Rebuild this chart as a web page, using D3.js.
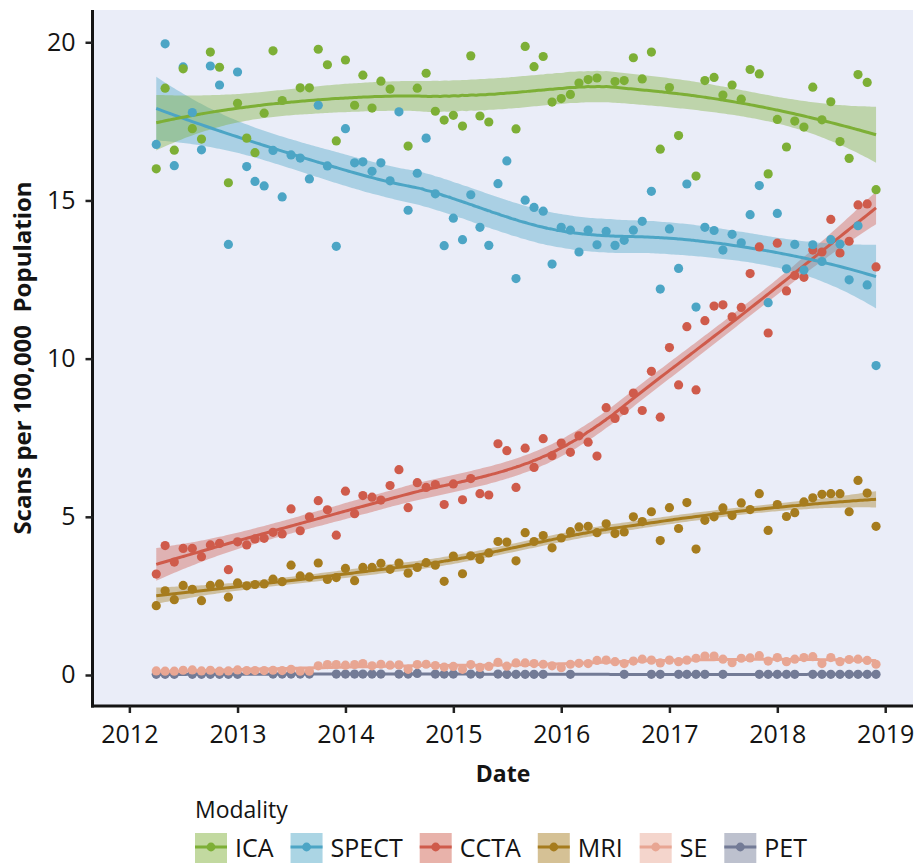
<!DOCTYPE html>
<html>
<head>
<meta charset="utf-8">
<script src="https://cdn.jsdelivr.net/npm/d3@7"></script>
<style>
  html, body { margin: 0; padding: 0; background: #ffffff; }
  svg { display: block; font-family: "Open Sans", "Noto Sans", sans-serif; }
</style>
</head>
<body>
<svg id="chart" width="915" height="863"></svg>
<script>
// Monthly scan rates per 100,000 population, April 2012 - December 2018
const months = d3.timeMonth.range(new Date(2012, 3, 1), new Date(2019, 0, 1));

const modalities = ["ICA", "SPECT", "CCTA", "MRI", "SE", "PET"];
const colors = ["#7daf36", "#4ca5c5", "#cf5b4b", "#a67c1e", "#e8a693", "#737b96"];
const yTicks = [0, 5, 10, 15, 20];
const xTickYears = [2012, 2013, 2014, 2015, 2016, 2017, 2018, 2019];

const ica = [16.0, 18.55, 16.59, 19.16, 17.27, 16.94, 19.69, 19.21, 15.56, 18.07,
  16.97, 16.51, 17.76, 19.73, 18.16, null, 18.56, 18.56, 19.78, 19.29,
  16.88, 19.44, 18.01, 18.96, 17.92, 18.77, 18.52, null, 16.72, 18.55,
  19.02, 17.82, 17.54, 17.69, 17.35, 19.57, 17.67, 17.48, null, null,
  17.26, 19.87, 19.23, 19.55, 18.11, 18.22, 18.35, 18.71, 18.82, 18.87,
  null, 18.76, 18.79, 19.51, 18.84, 19.69, 16.62, 18.57, 17.05, null,
  15.77, 18.79, 18.89, 18.33, 18.65, 18.2, 19.14, 19.0, 15.84, 17.56,
  16.69, 17.51, 17.32, 18.58, 17.55, 18.12, 16.86, 16.33, 18.98, 18.73, 15.34];

const spect = [16.77, 19.95, 16.1, 19.22, 17.78, 16.6, 19.25, 18.65, 13.61, 19.06,
  16.07, 15.6, 15.46, 16.58, 15.11, 16.44, 16.34, 15.68, 18.01, 16.09,
  13.55, 17.27, 16.19, 16.22, 15.92, 16.19, 15.62, 17.8, 14.69, 15.86,
  16.97, 15.21, 13.57, 14.44, 13.76, 15.18, 14.15, 13.58, 15.53, 16.25,
  12.53, 15.01, 14.78, 14.66, 12.99, 14.15, 14.06, 13.37, 14.06, 13.6,
  14.02, 13.58, 13.74, 14.06, 14.34, 15.29, 12.2, 14.1, 12.85, 15.52,
  11.63, 14.15, 14.05, 13.43, 13.93, 13.66, 14.55, 15.47, 11.77, 14.59,
  12.84, 13.61, 12.8, 13.6, 13.07, 13.76, 13.62, 12.49, 14.2, 12.33, 9.78];

const ccta = [3.19, 4.09, 3.57, 4.0, 4.0, 3.74, 4.11, 4.16, 3.33, 4.21,
  4.11, 4.3, 4.32, 4.51, 4.46, 5.25, 4.56, 5.0, 5.51, 5.22,
  4.42, 5.81, 5.1, 5.67, 5.62, 5.53, 5.99, 6.49, 5.29, 6.08,
  5.93, 6.02, 5.39, 6.04, 5.54, 6.21, 5.73, 5.69, 7.31, 7.09,
  5.93, 7.17, 6.56, 7.47, 6.93, 7.33, 7.04, 7.56, 7.36, 6.92,
  8.45, 8.11, 8.36, 8.91, 8.36, 9.6, 8.15, 10.35, 9.17, 11.01,
  9.01, 11.2, 11.66, 11.7, 11.32, 11.62, 12.69, 13.53, 10.81, 13.65,
  12.14, 12.63, 12.57, 13.43, 13.37, 14.4, 13.34, 13.71, 14.86, 14.89, 12.9];

const mri = [2.19, 2.66, 2.38, 2.83, 2.71, 2.35, 2.83, 2.88, 2.46, 2.91,
  2.82, 2.86, 2.88, 3.03, 2.95, 3.47, 3.13, 3.1, 3.54, 3.02,
  3.08, 3.37, 2.98, 3.4, 3.4, 3.53, 3.34, 3.54, 3.22, 3.4,
  3.55, 3.47, 2.96, 3.76, 3.2, 3.77, 3.65, 3.86, 4.22, 4.2,
  3.61, 4.5, 4.22, 4.41, 4.02, 4.33, 4.53, 4.68, 4.7, 4.5,
  4.78, 4.47, 4.52, 5.0, 4.85, 5.16, 4.25, 5.29, 4.63, 5.45,
  3.98, 4.89, 5.0, 5.28, 5.04, 5.44, 5.23, 5.73, 4.57, 5.39,
  5.01, 5.13, 5.47, 5.6, 5.71, 5.73, 5.73, 5.16, 6.15, 5.75, 4.7];

const se = [0.13, 0.12, 0.12, 0.15, 0.16, 0.13, 0.15, 0.12, 0.13, 0.16,
  0.14, 0.14, 0.14, 0.15, 0.14, 0.18, 0.12, 0.12, 0.29, 0.33,
  0.33, 0.31, 0.33, 0.36, 0.29, 0.34, 0.31, 0.32, 0.18, 0.33,
  0.34, 0.30, 0.25, 0.27, 0.18, 0.33, 0.24, 0.27, 0.40, 0.28,
  0.38, 0.38, 0.36, 0.34, 0.29, 0.23, 0.34, 0.37, 0.36, 0.46,
  0.47, 0.42, 0.36, 0.44, 0.50, 0.47, 0.38, 0.47, 0.42, 0.47,
  0.53, 0.60, 0.60, 0.50, 0.39, 0.53, 0.54, 0.61, 0.44, 0.55,
  0.42, 0.50, 0.55, 0.58, 0.36, 0.55, 0.42, 0.49, 0.50, 0.46, 0.34];

const pet = [0.02, 0.02, 0.02, null, 0.02, 0.02, 0.02, 0.02, 0.02, 0.02,
  null, null, null, 0.03, 0.03, 0.03, 0.03, 0.03, null, null,
  0.03, 0.03, 0.03, 0.03, 0.03, 0.03, null, 0.03, 0.03, 0.05,
  null, 0.03, 0.03, 0.03, null, 0.03, 0.03, null, 0.03, 0.02,
  0.02, 0.02, 0.02, 0.02, null, null, 0.02, null, null, null,
  null, null, 0.02, null, null, 0.02, 0.02, null, 0.02, 0.02,
  0.02, 0.02, null, 0.02, null, null, null, 0.02, 0.02, 0.02,
  0.02, 0.02, null, 0.02, 0.02, 0.02, 0.02, 0.02, 0.02, 0.02, 0.02];

const seriesValues = [ica, spect, ccta, mri, se, pet];

// ---- layout ----
const svg = d3.select("#chart");
const plot = { left: 93, right: 913, top: 10, bottom: 706 };

const x = d3.scaleTime()
  .domain([new Date(2011, 7, 31), new Date(2019, 3, 5)])
  .range([plot.left, plot.right]);
const y = d3.scaleLinear()
  .domain([-0.98, 21.02])
  .range([plot.bottom, plot.top]);

// ---- local quadratic regression (loess, span 0.75) with standard errors ----
function solve3(M, b) {
  const A = M.map((r, i) => [...r, b[i]]);
  for (let c = 0; c < 3; c++) {
    let p = c;
    for (let r = c + 1; r < 3; r++) if (Math.abs(A[r][c]) > Math.abs(A[p][c])) p = r;
    [A[c], A[p]] = [A[p], A[c]];
    for (let r = 0; r < 3; r++) {
      if (r === c) continue;
      const f = A[r][c] / A[c][c];
      for (let k = c; k < 4; k++) A[r][k] -= f * A[c][k];
    }
  }
  return [A[0][3] / A[0][0], A[1][3] / A[1][1], A[2][3] / A[2][2]];
}

function loessWeights(xs, x0, span) {
  const n = xs.length;
  const q = Math.max(3, Math.floor(span * n));
  const d = xs.map(v => Math.abs(v - x0));
  const h = d.slice().sort((a, b) => a - b)[q - 1] * 1.0000001;
  const w = d.map(v => v < h ? Math.pow(1 - Math.pow(v / h, 3), 3) : 0);
  const M = [[0, 0, 0], [0, 0, 0], [0, 0, 0]];
  for (let i = 0; i < n; i++) {
    const u = xs[i] - x0, row = [1, u, u * u];
    for (let a = 0; a < 3; a++) for (let b = 0; b < 3; b++) M[a][b] += w[i] * row[a] * row[b];
  }
  // first row of M^-1
  const e = solve3(M.map(r => r.slice()), [1, 0, 0]);
  return xs.map((v, i) => {
    const u = v - x0;
    return w[i] * (e[0] + e[1] * u + e[2] * u * u);
  });
}

function loessFit(xs, ys, grid, span) {
  const n = xs.length;
  const L = xs.map(x0 => loessWeights(xs, x0, span));
  let rss = 0, delta1 = 0;
  for (let i = 0; i < n; i++) {
    const fit = d3.sum(L[i], (l, j) => l * ys[j]);
    rss += (ys[i] - fit) ** 2;
  }
  // trace of (I-L)^T (I-L)
  for (let i = 0; i < n; i++) for (let j = 0; j < n; j++) {
    const v = (i === j ? 1 : 0) - L[i][j];
    delta1 += v * v;
  }
  const sigma = Math.sqrt(rss / delta1);
  const t = 1.99;
  return grid.map(g => {
    const l = loessWeights(xs, g, span);
    const fit = d3.sum(l, (v, j) => v * ys[j]);
    const sd = sigma * Math.sqrt(d3.sum(l, v => v * v));
    return { g, fit, lo: fit - t * sd, hi: fit + t * sd };
  });
}

const yearMs = 365.25 * 864e5;
const t0 = +months[0], t1 = +months[months.length - 1];
const grid = d3.range(161).map(i => (t0 + (t1 - t0) * i / 160) / yearMs);

const series = modalities.map((name, s) => {
  const pts = months.map((m, i) => ({ date: m, value: seriesValues[s][i] }))
    .filter(p => p.value !== null);
  const xs = pts.map(p => +p.date / yearMs);
  const ys = pts.map(p => p.value);
  const smooth = loessFit(xs, ys, grid, 0.75)
    .map(r => ({ date: new Date(r.g * yearMs), fit: r.fit, lo: r.lo, hi: r.hi }));
  return { name, color: colors[s], pts, smooth };
});

// ---- panel ----
svg.append("rect")
  .attr("x", plot.left).attr("y", plot.top)
  .attr("width", plot.right - plot.left).attr("height", plot.bottom - plot.top)
  .attr("fill", "#eaedf8");

const drawOrder = series.slice().reverse();
const gPlot = svg.append("g");

const area = d3.area()
  .x(d => x(d.date)).y0(d => y(d.lo)).y1(d => y(d.hi))
  .curve(d3.curveMonotoneX);
const line = d3.line()
  .x(d => x(d.date)).y(d => y(d.fit))
  .curve(d3.curveMonotoneX);

gPlot.selectAll("path.band").data(drawOrder).join("path")
  .attr("class", "band")
  .attr("d", d => area(d.smooth))
  .attr("fill", d => d.color)
  .attr("fill-opacity", 0.4);

gPlot.selectAll("path.fit").data(drawOrder).join("path")
  .attr("class", "fit")
  .attr("d", d => line(d.smooth))
  .attr("fill", "none")
  .attr("stroke", d => d.color)
  .attr("stroke-width", 3);

gPlot.selectAll("g.pts").data(drawOrder).join("g")
  .attr("class", "pts")
  .attr("fill", d => d.color)
  .selectAll("circle").data(d => d.pts).join("circle")
  .attr("cx", d => x(d.date))
  .attr("cy", d => y(d.value))
  .attr("r", 4.6);

// ---- axes ----
const xAxis = d3.axisBottom(x)
  .tickValues(xTickYears.map(yr => new Date(yr, 0, 1)))
  .tickFormat(d3.timeFormat("%Y"))
  .tickSize(7).tickSizeOuter(0).tickPadding(12);
const gx = svg.append("g").attr("transform", `translate(0,${plot.bottom})`).call(xAxis);

const yAxis = d3.axisLeft(y)
  .tickValues(yTicks)
  .tickSize(7).tickSizeOuter(0).tickPadding(10);
const gy = svg.append("g").attr("transform", `translate(${plot.left - 0.5},0)`).call(yAxis);

[gx, gy].forEach(g => {
  g.select(".domain").attr("stroke", "#141414").attr("stroke-width", 3);
  g.selectAll(".tick line").attr("stroke", "#222").attr("stroke-width", 2.5);
  g.selectAll(".tick text")
    .attr("fill", "#141414")
    .style("font-family", '"Open Sans", sans-serif')
    .style("font-size", "25px");
});
gy.select(".domain").attr("d", `M0,${plot.top}V${plot.bottom + 1.5}`);
gx.select(".domain").attr("d", `M${plot.left - 2},0H${plot.right}`);

// ---- axis titles ----
svg.append("text")
  .attr("x", (plot.left + plot.right) / 2).attr("y", 782)
  .attr("text-anchor", "middle")
  .attr("font-weight", "bold").attr("font-size", 23)
  .attr("fill", "#141414")
  .text("Date");

svg.append("text")
  .attr("transform", `translate(31,${(plot.top + plot.bottom) / 2}) rotate(-90)`)
  .attr("text-anchor", "middle")
  .attr("font-weight", "bold").attr("font-size", 24)
  .attr("fill", "#141414")
  .style("white-space", "pre")
  .text("Scans per 100,000  Population");

// ---- legend ----
svg.append("text")
  .attr("x", 195).attr("y", 818)
  .attr("font-size", 23).attr("fill", "#141414")
  .text("Modality");

let cursor = 195;
series.forEach(s => {
  const g = svg.append("g").attr("transform", `translate(${cursor},833)`);
  g.append("rect").attr("width", 32).attr("height", 30).attr("fill", "#ffffff");
  g.append("rect").attr("width", 32).attr("height", 30)
    .attr("fill", s.color).attr("fill-opacity", 0.47);
  g.append("line").attr("x1", 0).attr("x2", 32).attr("y1", 14).attr("y2", 14)
    .attr("stroke", s.color).attr("stroke-width", 3);
  g.append("circle").attr("cx", 16).attr("cy", 14).attr("r", 4.4).attr("fill", s.color);
  const label = g.append("text")
    .attr("x", 40).attr("y", 24)
    .attr("font-size", 25).attr("fill", "#141414")
    .text(s.name);
  cursor += 40 + label.node().getComputedTextLength() + 17;
});
</script>
</body>
</html>
